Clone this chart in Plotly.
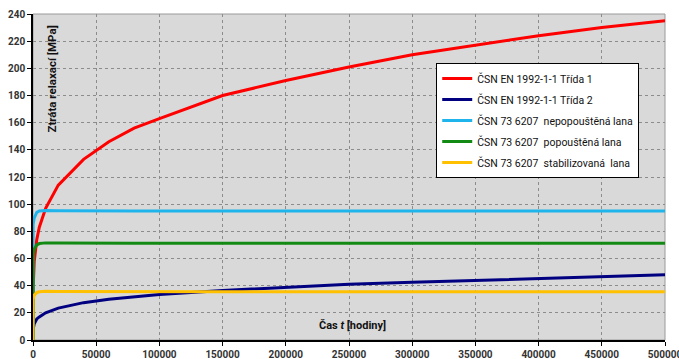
import plotly.graph_objects as go

# Time in hours
t = [0, 100, 1000, 3000, 5000, 10000, 20000, 40000, 60000, 80000, 100000,
     150000, 200000, 250000, 300000, 350000, 400000, 450000, 500000]

# Relaxation losses [MPa]
en_class1 = [0, 38, 58, 74, 83, 97, 114, 133, 146, 156, 163,
             180, 191, 201, 210, 217, 224, 230, 235]
en_class2 = [0, 8, 12, 15.5, 17, 20, 23.5, 27.5, 30, 32, 33.5,
             36.5, 39, 41, 42.5, 44, 45.5, 47, 48]
csn_nepopoustena = [0, 85, 90, 94, 95, 95.3, 95.2, 95, 95, 95, 95,
                    95, 95, 95, 95, 95, 95, 95, 95]
csn_popoustena = [0, 62, 67, 70, 71, 71.5, 71.4, 71.2, 71.2, 71.2, 71.2,
                  71.2, 71.2, 71.2, 71.2, 71.2, 71.2, 71.2, 71.2]
csn_stabilizovana = [0, 30, 33, 35, 35.5, 35.8, 35.7, 35.6, 35.6, 35.6, 35.6,
                     35.6, 35.6, 35.6, 35.6, 35.6, 35.6, 35.6, 35.6]

names = ["ČSN EN 1992-1-1 Třída 1",
         "ČSN EN 1992-1-1 Třída 2",
         "ČSN 73 6207  nepopouštěná lana",
         "ČSN 73 6207  popouštěná lana",
         "ČSN 73 6207  stabilizovaná  lana"]
series = [en_class1, en_class2, csn_nepopoustena, csn_popoustena, csn_stabilizovana]
colors = ["#ff0000", "#000080", "#1fb5ec", "#138a13", "#ffc000"]

x_ticks = list(range(0, 500001, 50000))
y_ticks = list(range(0, 241, 20))

fig = go.Figure()
for i, (name, ys, c) in enumerate(zip(names, series, colors)):
    fig.add_trace(go.Scatter(
        x=t, y=ys, name=name, mode="lines",
        line=dict(color=c, width=3),
        legendgroup=str(i),
    ))

font_family = "'Liberation Sans Narrow', Roboto, sans-serif"
tick_font = dict(size=10, color="#333333", family=font_family, weight="bold")

fig.update_layout(
    width=679, height=359,
    margin=dict(l=33, r=14, t=14, b=19, autoexpand=False),
    paper_bgcolor="white",
    plot_bgcolor="#d9d9d9",
    font=dict(family=font_family, size=10, color="#222222"),
    showlegend=True,
    legend=dict(
        x=0.638, y=0.85, xanchor="left", yanchor="top",
        bgcolor="white", bordercolor="black", borderwidth=1,
        font=dict(size=10.5, color="#111111"),
        traceorder="grouped", tracegroupgap=2,
        itemwidth=30,
    ),
    xaxis=dict(
        range=[0, 500000], tickvals=x_ticks,
        ticktext=[str(v) for v in x_ticks],
        showline=True, linecolor="black", linewidth=1.5,
        ticks="outside", ticklen=4, tickcolor="black",
        showgrid=True, gridcolor="#8c8c8c", griddash="dot", gridwidth=1,
        zeroline=False, ticklabeloverflow="allow", automargin=False,
        tickfont=tick_font,
    ),
    yaxis=dict(
        range=[0, 240], tickvals=y_ticks,
        showline=True, linecolor="black", linewidth=1.5,
        ticks="outside", ticklen=4, tickcolor="black",
        showgrid=True, gridcolor="#8c8c8c", griddash="dot", gridwidth=1,
        zeroline=False, ticklabeloverflow="allow", automargin=False,
        tickfont=tick_font,
    ),
)

# Thin outline around the plot area
fig.add_shape(type="rect", xref="paper", yref="paper", x0=0, y0=0, x1=1, y1=1,
              line=dict(color="#9a9a9a", width=1), layer="below")

# Axis titles placed inside the plot area
fig.add_annotation(
    text="<b>Ztráta relaxací [MPa]</b>", xref="paper", yref="paper",
    x=0.03, y=0.972, xanchor="center", yanchor="top", textangle=-90,
    showarrow=False, font=dict(size=11.5, color="#111111"),
)
fig.add_annotation(
    text="<b>Čas <i>t</i> [hodiny]</b>", xref="paper", yref="paper",
    x=0.506, y=0.046, xanchor="center", yanchor="middle",
    showarrow=False, font=dict(size=11, color="#111111"),
)

fig.write_html("out.html")
